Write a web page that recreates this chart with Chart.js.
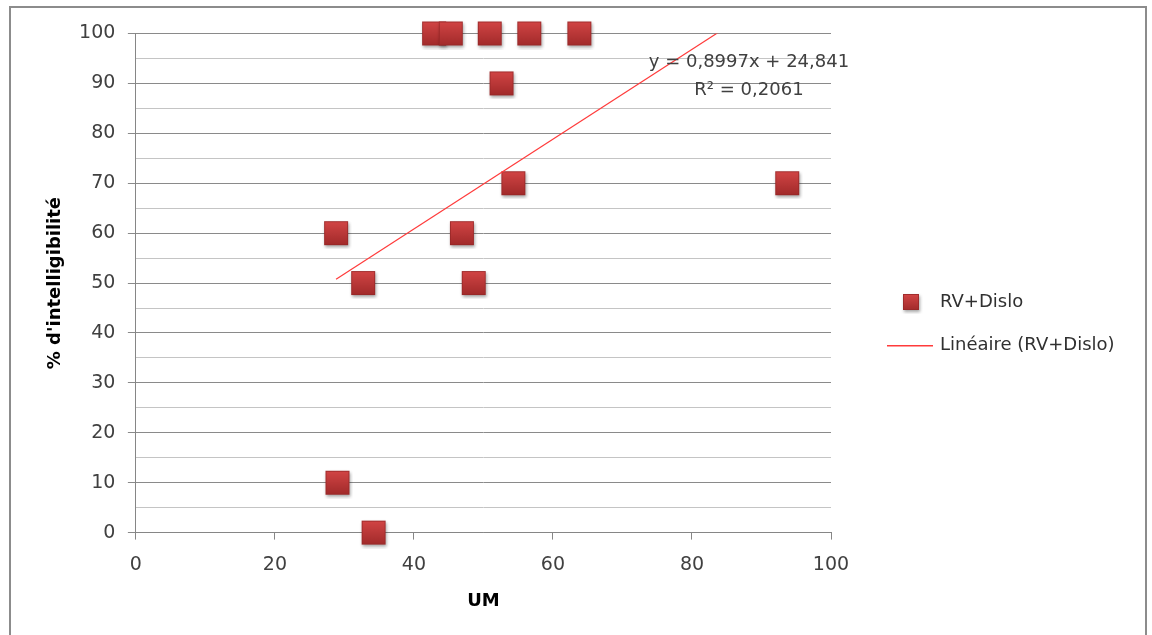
<!DOCTYPE html>
<html>
<head>
<meta charset="utf-8">
<script src="https://cdn.jsdelivr.net/npm/chart.js@4"></script>
<style>
  body { margin: 0; background: #fff; }
  #wrap { position: relative; width: 1152px; height: 635px; overflow: hidden; }
  #frame { position: absolute; left: 9px; top: 6px; width: 1134px; height: 700px; border: 2px solid #8c8c8c; }
  canvas { position: absolute; left: 0; top: 0; }
</style>
</head>
<body>
<div id="wrap">
  <div id="frame"></div>
  <canvas id="myChart" width="1152" height="635"></canvas>
</div>
<script>
// data
const um = [42.9, 45.3, 50.9, 56.6, 63.8, 52.6, 54.3, 93.7, 28.8, 46.9, 32.7, 48.6, 29.0, 34.2];
const intelligibilite = [100, 100, 100, 100, 100, 90, 70, 70, 60, 60, 50, 50, 10, 0];
const trendSlope = 0.8997;
const trendIntercept = 24.841;
const equationText = ['y = 0,8997x + 24,841', 'R² = 0,2061'];
const seriesName = 'RV+Dislo';
const trendName = 'Linéaire (RV+Dislo)';

const FONT = 'DejaVu Sans';
const TREND_COLOR = '#ff3b3b';

// square marker with a little gradient and shadow, like the Excel one
function makeMarker(size) {
  const c = document.createElement('canvas');
  c.width = size + 8;
  c.height = size + 8;
  const g = c.getContext('2d');
  const o = 4;
  g.shadowColor = 'rgba(0,0,0,0.35)';
  g.shadowBlur = 3;
  g.shadowOffsetX = 1;
  g.shadowOffsetY = 2;
  const grad = g.createLinearGradient(0, o, 0, o + size);
  grad.addColorStop(0, '#d24545');
  grad.addColorStop(1, '#a12a2a');
  g.fillStyle = grad;
  g.fillRect(o, o, size, size);
  g.shadowColor = 'transparent';
  g.strokeStyle = 'rgba(150,40,40,0.8)';
  g.lineWidth = 1;
  g.strokeRect(o + 0.5, o + 0.5, size - 1, size - 1);
  return c;
}

const pointMarker = makeMarker(24);
const legendMarker = makeMarker(16);

const points = um.map((x, i) => ({ x: x, y: intelligibilite[i] }));
const xMin = Math.min(...um);
const xMax = Math.max(...um);
const trend = [
  { x: xMin, y: trendSlope * xMin + trendIntercept },
  { x: xMax, y: trendSlope * xMax + trendIntercept }
];

// equation label + legend on the right, drawn next to the chart area
const extrasPlugin = {
  id: 'extras',
  afterDraw(chart) {
    const ctx = chart.ctx;
    const xs = chart.scales.x, ys = chart.scales.y;
    const area = chart.chartArea;
    ctx.save();
    ctx.font = '18px "' + FONT + '"';
    ctx.fillStyle = '#404040';
    ctx.textAlign = 'center';
    ctx.textBaseline = 'middle';
    const cx = xs.getPixelForValue(88.2);
    const cy = ys.getPixelForValue(94.3);
    ctx.fillText(equationText[0], cx, cy);
    ctx.fillText(equationText[1], cx, cy + 28);

    // legend
    const lx = area.right + 56;
    const mid = (area.top + area.bottom) / 2;
    const y1 = mid + 19, y2 = mid + 62;
    ctx.drawImage(legendMarker, Math.round(lx + 24 - legendMarker.width / 2), Math.round(y1 - legendMarker.height / 2));
    ctx.fillStyle = TREND_COLOR;
    ctx.fillRect(Math.round(lx), Math.round(y2), 46, 1.5);
    ctx.textAlign = 'left';
    ctx.fillStyle = '#303030';
    ctx.fillText(seriesName, lx + 53, y1);
    ctx.fillText(trendName, lx + 53, y2);
    ctx.restore();
  }
};

const major = v => Math.abs(v % 10) < 1e-9;

new Chart(document.getElementById('myChart'), {
  type: 'scatter',
  data: {
    datasets: [{
      label: seriesName,
      data: points,
      pointStyle: pointMarker,
      pointRadius: 12,
      pointHoverRadius: 12,
      clip: false
    }, {
      type: 'line',
      label: trendName,
      data: trend,
      borderColor: TREND_COLOR,
      borderWidth: 1.2,
      pointRadius: 0,
      clip: 0,
      order: -1
    }]
  },
  options: {
    responsive: false,
    animation: false,
    layout: { padding: { left: 45, top: 33.5, right: 321, bottom: 19 } },
    plugins: {
      tooltip: { enabled: false },
      legend: { display: false }
    },
    scales: {
      x: {
        min: 0,
        max: 100,
        ticks: { stepSize: 20, color: '#404040', padding: 14, font: { family: FONT, size: 19 } },
        grid: { drawOnChartArea: false, tickLength: 7, color: '#868686' },
        border: { color: '#868686' },
        title: { display: true, text: 'UM', color: '#000', font: { family: FONT, size: 18, weight: 'bold' }, padding: { top: 0, bottom: 4 } }
      },
      y: {
        min: 0,
        max: 100,
        ticks: {
          stepSize: 5,
          autoSkip: false,
          color: '#404040',
          padding: 12.5,
          font: { family: FONT, size: 19 },
          callback: v => major(v) ? v : ''
        },
        grid: {
          tickLength: 8,
          color: c => major(c.tick.value) ? '#8a8a8a' : '#c4c4c4',
          tickColor: c => major(c.tick.value) ? '#8a8a8a' : 'rgba(0,0,0,0)'
        },
        border: { color: '#868686' },
        title: { display: true, text: "% d'intelligibilité", color: '#000', font: { family: FONT, size: 18, weight: 'bold' }, padding: { top: 0, bottom: 0 } }
      }
    }
  },
  plugins: [extrasPlugin]
});
</script>
</body>
</html>
